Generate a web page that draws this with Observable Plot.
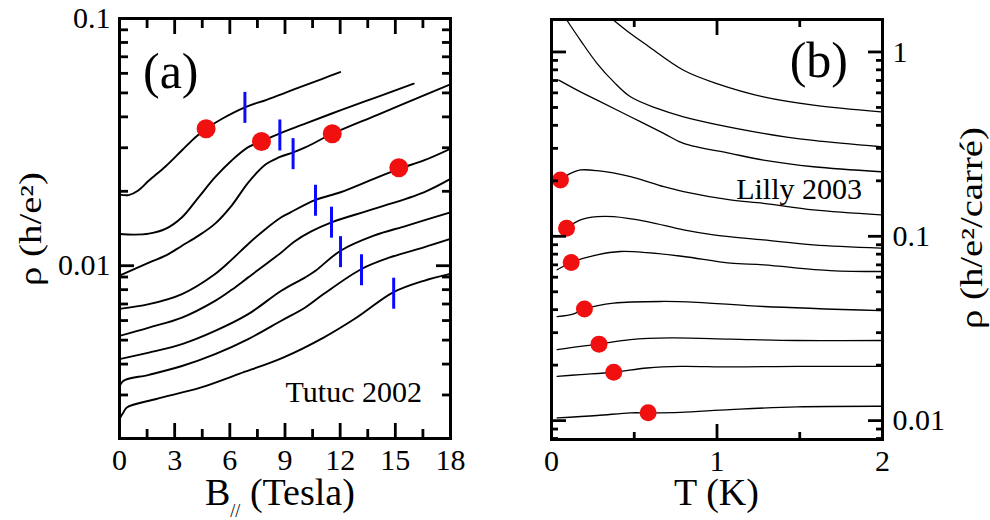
<!DOCTYPE html>
<html>
<head>
<meta charset="utf-8">
<script src="https://cdn.jsdelivr.net/npm/d3@7"></script>
<script src="https://cdn.jsdelivr.net/npm/@observablehq/plot@0.6"></script>
<style>
  html, body { margin: 0; padding: 0; background: #fff; }
  #root { position: relative; width: 990px; height: 520px; overflow: hidden; font-family: "Liberation Serif", "Times New Roman", serif; color: #000; }
  #root svg { position: absolute; top: 0; }
  #root svg text { font-family: "Liberation Serif", "Times New Roman", serif; }
  .lbl { position: absolute; line-height: 0; height: 0; white-space: nowrap; font-family: "Liberation Serif", "Times New Roman", serif; }
</style>
</head>
<body>
<div id="root">
  <div class="lbl" style="left:205px; top:492px; font-size:38px;">B<span style="font-size:18px; position:relative; top:12px;">//</span> (Tesla)</div>
  <div class="lbl" style="left:716.5px; top:492px; font-size:38px; transform:translateX(-50%);">T (K)</div>
  <div class="lbl" style="left:30.5px; top:228.5px; font-size:31px; transform-origin:0 0; transform:rotate(-90deg) scale(1.25,1) translateX(-50%);">ρ (h/e²)</div>
  <div class="lbl" style="left:972px; top:227.5px; font-size:31px; transform-origin:0 0; transform:rotate(-90deg) scale(1.25,1) translateX(-50%);">ρ (h/e²/carré)</div>
  <div class="lbl" style="left:143px; top:71px; font-size:50px;">(a)</div>
  <div class="lbl" style="right:568px; top:392px; font-size:30px; text-align:right;">Tutuc 2002</div>
  <div class="lbl" style="right:142px; top:60px; font-size:50px; text-align:right;">(b)</div>
  <div class="lbl" style="right:128px; top:189px; font-size:30px; text-align:right;">Lilly 2003</div>
</div>
<script>
// ---------- Panel (a): Tutuc 2002, rho (h/e^2) vs B_parallel (Tesla) ----------
const tutuc1 = [[0,0.0194],[0.5,0.0193],[1.0,0.0201],[1.6,0.0221],[2.5,0.0252],[3.4,0.0293],[4.13,0.0331],[4.71,0.0358],[5.58,0.0393],[6.85,0.0438],[8,0.0469],[9,0.0500],[10,0.0534],[11,0.0569],[12,0.0607]];
const tutuc2 = [[0,0.01344],[0.8,0.01336],[1.6,0.01348],[2.5,0.01408],[3.4,0.0157],[4.3,0.01891],[5.2,0.0228],[6.1,0.02665],[7.0,0.03017],[7.72,0.03181],[8.66,0.03418],[10.1,0.03753],[12,0.04249],[14,0.04811],[16,0.05451]];
const tutuc3 = [[0,0.00911],[1.6,0.01029],[2.5,0.01098],[3.4,0.01205],[4.3,0.01323],[5.2,0.0148],[6.1,0.01751],[7.0,0.0217],[7.94,0.02567],[8.66,0.02741],[9.48,0.02879],[10.1,0.03008],[11.57,0.03418],[14,0.0407],[16,0.047],[18,0.05416]];
const tutuc4 = [[0,0.00669],[1.6,0.00699],[3.4,0.00768],[5.2,0.00926],[6.1,0.01058],[7.0,0.01225],[7.9,0.01399],[8.8,0.0157],[9.3,0.01644],[10.66,0.01846],[12.02,0.01982],[13.83,0.02246],[15.19,0.02466],[16.55,0.02665],[18,0.02972]];
const tutuc5 = [[0,0.0052],[1.6,0.00562],[3.4,0.00617],[5.2,0.00721],[6.1,0.00799],[7.0,0.00897],[8.8,0.01132],[9.5,0.01251],[10.4,0.01373],[11.53,0.01498],[13.83,0.01697],[16.55,0.01982],[18,0.02246]];
const tutuc6 = [[0,0.00419],[1.6,0.00445],[3.4,0.00482],[5.2,0.00545],[7.0,0.00637],[8.8,0.00792],[10.1,0.00897],[10.66,0.00954],[12.02,0.0115],[13.83,0.01323],[15.64,0.01453],[18,0.01644]];
const tutuc7 = [[0,0.00323],[0.2,0.00342],[1.6,0.00362],[3.4,0.00393],[5.2,0.00439],[7.0,0.00505],[8.8,0.00599],[10.1,0.00678],[11.1,0.00768],[13.16,0.0097],[14.7,0.0108],[16.55,0.01186],[18,0.01283]];
const tutuc8 = [[0,0.0024],[0.2,0.00254],[0.4,0.00267],[2,0.00289],[4.4,0.00321],[6.5,0.00365],[8.9,0.00425],[11.1,0.00512],[12.9,0.00617],[14.88,0.0078],[16.55,0.00869],[18,0.00926]];
const tutucCurves = [tutuc1, tutuc2, tutuc3, tutuc4, tutuc5, tutuc6, tutuc7, tutuc8];
const tutucRedDots = [[4.71,0.0358],[7.72,0.0318],[11.57,0.0342],[15.19,0.0249]];
const tutucBlueMarks = [[6.82,0.0437],[8.72,0.0338],[9.44,0.0284],[10.66,0.0184],[11.53,0.0150],[12.02,0.0114],[13.16,0.00963],[14.91,0.00774]];
const fieldMajorTicks = [0,3,6,9,12,15,18];
const fieldMinorTicks = [1.5,4.5,7.5,10.5,13.5,16.5];
const rhoAMajorTicks = [0.01, 0.1];
const rhoAMinorTicks = [0.002,0.003,0.004,0.005,0.006,0.007,0.008,0.009,0.02,0.03,0.04,0.05,0.06,0.07,0.08,0.09];

// ---------- Panel (b): Lilly 2003, rho (h/e^2/carre) vs T (K) ----------
const lilly1 = [[0.37,1.50],[0.477,1.258],[0.577,1.087],[0.798,0.796],[0.999,0.674],[1.281,0.571],[1.583,0.515],[1.99,0.473]];
const lilly2 = [[0.09,1.50],[0.175,1.157],[0.276,0.865],[0.376,0.688],[0.477,0.571],[0.638,0.494],[0.798,0.445],[1.279,0.362],[1.583,0.331],[1.99,0.306]];
const lilly3 = [[0.044,0.703],[0.175,0.607],[0.276,0.548],[0.477,0.445],[0.678,0.362],[0.798,0.319],[1.08,0.2818],[1.281,0.259],[1.583,0.2384],[1.99,0.224]];
const lilly4 = [[0.054,0.202],[0.115,0.2196],[0.175,0.229],[0.276,0.2269],[0.477,0.2105],[0.678,0.1858],[0.798,0.1746],[1.08,0.1574],[1.281,0.151],[1.583,0.139],[1.99,0.1306]];
const lilly5 = [[0.091,0.1106],[0.175,0.1227],[0.276,0.1278],[0.376,0.1278],[0.577,0.1201],[0.798,0.1083],[0.979,0.1018],[1.281,0.0956],[1.583,0.0898],[1.99,0.0862]];
const lilly6 = [[0.034,0.0658],[0.119,0.0721],[0.276,0.0793],[0.416,0.0827],[0.577,0.0816],[0.798,0.0777],[1.08,0.0715],[1.281,0.07],[1.684,0.0652],[1.99,0.0644]];
const lilly7 = [[0.034,0.0367],[0.135,0.038],[0.199,0.0403],[0.376,0.0434],[0.678,0.0443],[0.879,0.0438],[1.281,0.0416],[1.99,0.0395]];
const lilly8 = [[0.034,0.0243],[0.175,0.0253],[0.287,0.026],[0.477,0.0275],[0.718,0.0281],[1.08,0.0277],[1.483,0.0272],[1.99,0.0272]];
const lilly9 = [[0.034,0.0174],[0.175,0.01777],[0.376,0.0183],[0.577,0.0193],[0.778,0.0197],[1.08,0.01955],[1.483,0.0197],[1.99,0.0197]];
const lilly10 = [[0.034,0.01035],[0.276,0.01066],[0.477,0.01102],[0.584,0.01102],[0.778,0.0111],[1.08,0.01148],[1.483,0.01188],[1.99,0.01197]];
const lillyCurves = [lilly1, lilly2, lilly3, lilly4, lilly5, lilly6, lilly7, lilly8, lilly9, lilly10];
const lillyRedDots = [[0.054,0.202],[0.091,0.1106],[0.119,0.0721],[0.199,0.0403],[0.287,0.026],[0.376,0.0183],[0.584,0.01102]];
const tempMajorTicks = [0, 1, 2];
const tempMinorTicks = [0.5, 1.5];
const rhoBMajorTicks = [0.01, 0.1, 1];
const rhoBMinorTicks = [0.008,0.009,0.02,0.03,0.04,0.05,0.06,0.07,0.08,0.09,0.2,0.3,0.4,0.5,0.6,0.7,0.8,0.9];

// ---------- helpers ----------
const FONT = "Liberation Serif";
const toRows = (curves, xKey, yKey) => curves.flatMap((c, i) => c.map(([a, b]) => ({[xKey]: a, [yKey]: b, curve: i})));
const toPts = (arr, xKey, yKey) => arr.map(([a, b]) => ({[xKey]: a, [yKey]: b}));
const vline = { draw(ctx, size) { const r = Math.sqrt(size / Math.PI); ctx.moveTo(0, -r); ctx.lineTo(0, r); } };
const SW = 2.8;
function boxTicks(xMaj, xMin, yMaj, yMin, majLen, minLen) {
  const m = [];
  for (const anchor of ["bottom", "top"]) {
    m.push(Plot.axisX(xMaj, {anchor, tickSize: -majLen, fill: "none", label: null, strokeWidth: SW}));
    m.push(Plot.axisX(xMin, {anchor, tickSize: -minLen, fill: "none", label: null, strokeWidth: SW}));
  }
  for (const anchor of ["left", "right"]) {
    m.push(Plot.axisY(yMaj, {anchor, tickSize: -majLen, fill: "none", label: null, strokeWidth: SW}));
    m.push(Plot.axisY(yMin, {anchor, tickSize: -minLen, fill: "none", label: null, strokeWidth: SW}));
  }
  return m;
}
const fmt = d => String(d);

// ---------- Plot (a) ----------
const plotA = Plot.plot({
  width: 500, height: 520,
  marginLeft: 119, marginRight: 50, marginTop: 18, marginBottom: 82,
  style: {fontFamily: FONT, background: "transparent", overflow: "visible"},
  x: {domain: [0, 18], label: null},
  y: {type: "log", domain: [0.002, 0.1], label: null},
  marks: [
    Plot.line(toRows(tutucCurves, "B", "rho"), {x: "B", y: "rho", z: "curve", stroke: "black", strokeWidth: 1.9, curve: "catmull-rom", clip: true}),
    Plot.dot(toPts(tutucBlueMarks, "B", "rho"), {x: "B", y: "rho", symbol: vline, r: 15.5, stroke: "#0a0aff", strokeWidth: 3, fill: "none"}),
    Plot.dot(toPts(tutucRedDots, "B", "rho"), {x: "B", y: "rho", r: 9.5, fill: "#f01010", stroke: "none"}),
    ...boxTicks(fieldMajorTicks, fieldMinorTicks, rhoAMajorTicks, rhoAMinorTicks, 15, 9),
    Plot.axisX(fieldMajorTicks, {anchor: "bottom", tickSize: 0, tickPadding: 10, fontSize: 30, fontFamily: FONT, label: null, tickFormat: fmt}),
    Plot.axisY(rhoAMajorTicks, {anchor: "left", tickSize: 0, tickPadding: 9, fontSize: 30, fontFamily: FONT, label: null, tickFormat: fmt}),
    Plot.frame({stroke: "black", strokeWidth: 3})
  ]
});
plotA.style.left = "0px";

// ---------- Plot (b) ----------
const plotB = Plot.plot({
  width: 490, height: 520,
  marginLeft: 51, marginRight: 108, marginTop: 19, marginBottom: 81,
  style: {fontFamily: FONT, background: "transparent", overflow: "visible"},
  x: {domain: [0, 2], label: null},
  y: {type: "log", domain: [0.0079, 1.5], label: null},
  marks: [
    Plot.line(toRows(lillyCurves, "T", "rho"), {x: "T", y: "rho", z: "curve", stroke: "black", strokeWidth: 1.3, curve: "catmull-rom", clip: true}),
    Plot.dot(toPts(lillyRedDots, "T", "rho"), {x: "T", y: "rho", r: 8.5, fill: "#f01010", stroke: "none"}),
    ...boxTicks(tempMajorTicks, tempMinorTicks, rhoBMajorTicks, rhoBMinorTicks, 15, 7),
    Plot.axisX(tempMajorTicks, {anchor: "bottom", tickSize: 0, tickPadding: 10, fontSize: 30, fontFamily: FONT, label: null, tickFormat: fmt}),
    Plot.axisY(rhoBMajorTicks, {anchor: "right", tickSize: 0, tickPadding: 10, fontSize: 30, fontFamily: FONT, label: null, tickFormat: fmt}),
    Plot.frame({stroke: "black", strokeWidth: 3})
  ]
});
plotB.style.left = "500px";

const root = document.getElementById("root");
root.insertBefore(plotB, root.firstChild);
root.insertBefore(plotA, root.firstChild);
</script>
</body>
</html>
